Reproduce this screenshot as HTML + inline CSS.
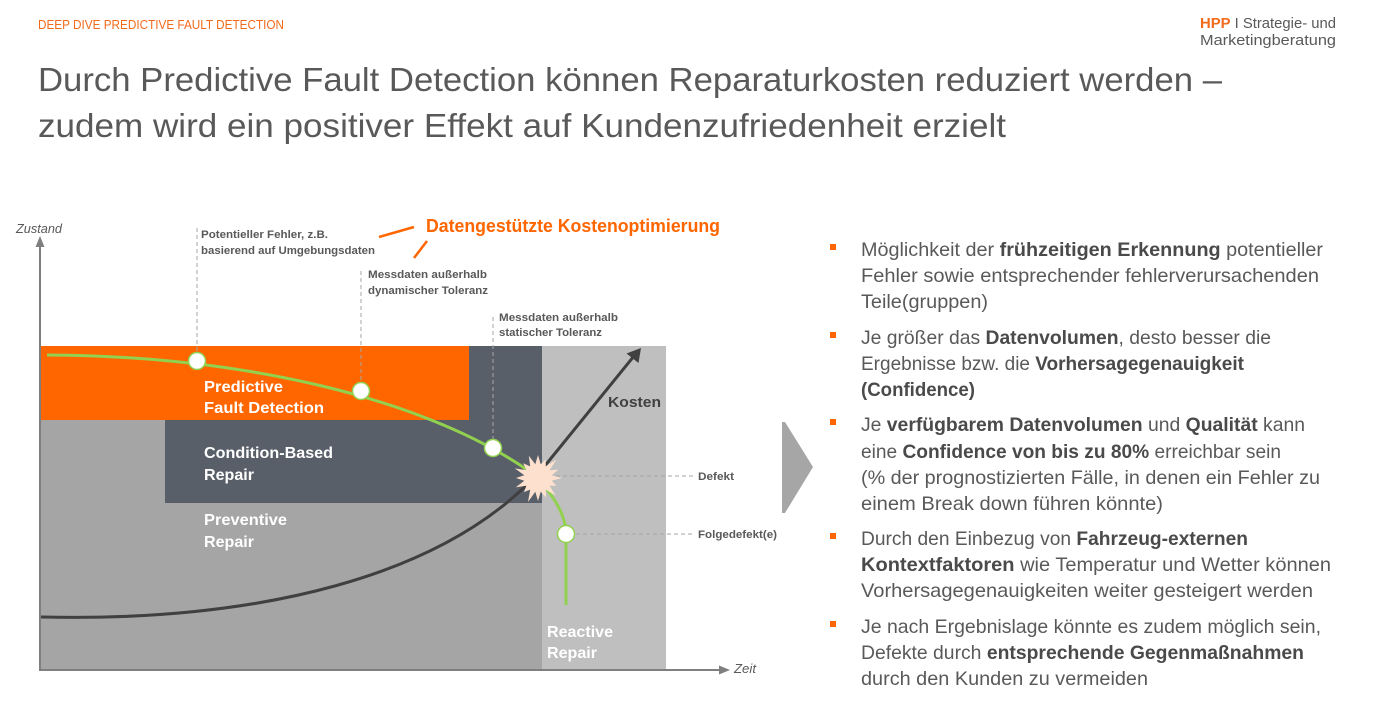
<!DOCTYPE html>
<html>
<head>
<meta charset="utf-8">
<style>
  html, body { margin: 0; padding: 0; background: #ffffff; }
  body { width: 1377px; height: 717px; overflow: hidden; }
  svg { display: block; font-family: "Liberation Sans", "DejaVu Sans", sans-serif; }
</style>
</head>
<body>
<svg width="1377" height="717" viewBox="0 0 1377 717" xmlns="http://www.w3.org/2000/svg">
  <rect x="0" y="0" width="1377" height="717" fill="#ffffff"/>

  <!-- Header -->
  <text x="38" y="29" font-size="13" fill="#f26a1b" textLength="246" lengthAdjust="spacingAndGlyphs">DEEP DIVE PREDICTIVE FAULT DETECTION</text>

  <!-- Logo -->
  <text x="1200" y="28" font-size="14.5" fill="#595959" textLength="136" lengthAdjust="spacingAndGlyphs"><tspan fill="#f26a1b" font-weight="bold">HPP</tspan> I Strategie- und</text>
  <text x="1200" y="45" font-size="14.5" fill="#595959" textLength="136" lengthAdjust="spacingAndGlyphs">Marketingberatung</text>

  <!-- Title -->
  <text x="38" y="91" font-size="33" fill="#595959" textLength="1184" lengthAdjust="spacingAndGlyphs">Durch Predictive Fault Detection können Reparaturkosten reduziert werden –</text>
  <text x="38" y="137" font-size="33" fill="#595959" textLength="968" lengthAdjust="spacingAndGlyphs">zudem wird ein positiver Effekt auf Kundenzufriedenheit erzielt</text>

  <!-- Chart background regions -->
  <rect x="40" y="419" width="502" height="250" fill="#a5a5a5"/>
  <rect x="542" y="346" width="124" height="323" fill="#bfbfbf"/>
  <polygon points="469,346 542,346 542,503 165,503 165,419 469,419" fill="#595f69"/>
  <rect x="40" y="346" width="429" height="74" fill="#ff6600"/>

  <!-- Axes -->
  <line x1="40" y1="670" x2="40" y2="245" stroke="#7f7f7f" stroke-width="2"/>
  <polygon points="40,236 44.5,247 35.5,247" fill="#7f7f7f"/>
  <line x1="39" y1="670" x2="720" y2="670" stroke="#7f7f7f" stroke-width="2"/>
  <polygon points="730,670 719,665.5 719,674.5" fill="#7f7f7f"/>
  <text x="16" y="233" font-size="12.5" font-style="italic" fill="#595959" textLength="46" lengthAdjust="spacingAndGlyphs">Zustand</text>
  <text x="734" y="673" font-size="12.5" font-style="italic" fill="#595959" textLength="22" lengthAdjust="spacingAndGlyphs">Zeit</text>

  <!-- Dashed leader lines -->
  <g stroke="#a6a6a6" stroke-width="1" stroke-dasharray="4,3" fill="none">
    <line x1="197" y1="228" x2="197" y2="353"/>
    <line x1="361" y1="271" x2="361" y2="383"/>
    <line x1="493" y1="317" x2="493" y2="440"/>
    <line x1="556" y1="476" x2="695" y2="476"/>
    <line x1="576" y1="534" x2="695" y2="534"/>
  </g>

  <!-- Callout labels -->
  <g font-size="11" font-weight="bold" fill="#595959">
    <text x="201" y="238" textLength="127" lengthAdjust="spacingAndGlyphs">Potentieller Fehler, z.B.</text>
    <text x="201" y="254" textLength="174" lengthAdjust="spacingAndGlyphs">basierend auf Umgebungsdaten</text>
    <text x="368" y="278" textLength="119" lengthAdjust="spacingAndGlyphs">Messdaten außerhalb</text>
    <text x="368" y="294" textLength="120" lengthAdjust="spacingAndGlyphs">dynamischer Toleranz</text>
    <text x="499" y="321" textLength="119" lengthAdjust="spacingAndGlyphs">Messdaten außerhalb</text>
    <text x="499" y="336" textLength="103" lengthAdjust="spacingAndGlyphs">statischer Toleranz</text>
    <text x="698" y="480" textLength="36" lengthAdjust="spacingAndGlyphs">Defekt</text>
    <text x="698" y="538" textLength="79" lengthAdjust="spacingAndGlyphs">Folgedefekt(e)</text>
  </g>

  <!-- Datengestützte Kostenoptimierung -->
  <text x="426" y="232" font-size="18" font-weight="bold" fill="#ff6600" textLength="294" lengthAdjust="spacingAndGlyphs">Datengestützte Kostenoptimierung</text>
  <line x1="379" y1="237" x2="414" y2="227" stroke="#ff6600" stroke-width="2.5"/>
  <line x1="427" y1="241" x2="414" y2="258" stroke="#ff6600" stroke-width="2.5"/>

  <!-- Block labels -->
  <g font-size="16" font-weight="bold" fill="#ffffff">
    <text x="204" y="392" textLength="79" lengthAdjust="spacingAndGlyphs">Predictive</text>
    <text x="204" y="413" textLength="120" lengthAdjust="spacingAndGlyphs">Fault Detection</text>
    <text x="204" y="458" textLength="129" lengthAdjust="spacingAndGlyphs">Condition-Based</text>
    <text x="204" y="480" textLength="50" lengthAdjust="spacingAndGlyphs">Repair</text>
    <text x="204" y="525" textLength="83" lengthAdjust="spacingAndGlyphs">Preventive</text>
    <text x="204" y="547" textLength="50" lengthAdjust="spacingAndGlyphs">Repair</text>
    <text x="547" y="637" textLength="66" lengthAdjust="spacingAndGlyphs">Reactive</text>
    <text x="547" y="658" textLength="50" lengthAdjust="spacingAndGlyphs">Repair</text>
  </g>

  <!-- Cost curve -->
  <path d="M41,617 C250,622 450,580 548,462 L634,356" stroke="#404040" stroke-width="3" fill="none"/>
  <polygon points="641,348 638.5,363 626.5,353.5" fill="#404040"/>
  <text x="608" y="407" font-size="15" font-weight="bold" fill="#404040" textLength="53" lengthAdjust="spacingAndGlyphs">Kosten</text>

  <!-- Condition curve (green) -->
  <path d="M47,355 C250,356 420,400 520,465 C545,482 566,510 566,534 L566,605" stroke="#92d050" stroke-width="3" fill="none"/>

  <!-- Defect star -->
  <polygon transform="translate(538,478)" fill="#fde0cd" points="24,0 13.7,2.7 18.5,7.7 11.6,7.8 17.7,17.7 7.8,11.6 8,19.4 2.7,13.7 0,23 -2.7,13.7 -10,24 -7.8,11.6 -14.1,14.1 -11.6,7.8 -22.2,9.2 -13.7,2.7 -22,0 -13.7,-2.7 -23.1,-9.6 -11.6,-7.8 -14.8,-14.8 -7.8,-11.6 -9.2,-22.2 -2.7,-13.7 0,-23 2.7,-13.7 7.7,-18.5 7.8,-11.6 18.4,-18.4 11.6,-7.8 20.3,-8.4 13.7,-2.7"/>

  <!-- Circles -->
  <g fill="#ffffff" stroke="#92d050" stroke-width="1.5">
    <circle cx="197" cy="361" r="8.5"/>
    <circle cx="361" cy="391" r="8.5"/>
    <circle cx="493" cy="448" r="8.5"/>
    <circle cx="566" cy="534" r="8.5"/>
  </g>

  <!-- Chevron -->
  <polygon points="782,422 785,422 813,467 785,513 782,513" fill="#a6a6a6"/>

  <!-- Bullets -->
  <g fill="#ff6600">
    <rect x="830" y="244" width="6" height="6"/>
    <rect x="830" y="332" width="6" height="6"/>
    <rect x="830" y="419" width="6" height="6"/>
    <rect x="830" y="533" width="6" height="6"/>
    <rect x="830" y="621" width="6" height="6"/>
  </g>
  <g font-size="19.5" fill="#595959">
    <text x="861" y="256" textLength="462" lengthAdjust="spacingAndGlyphs">Möglichkeit der <tspan font-weight="bold" fill="#4a4a4a">frühzeitigen Erkennung</tspan> potentieller</text>
    <text x="861" y="282" textLength="458" lengthAdjust="spacingAndGlyphs">Fehler sowie entsprechender fehlerverursachenden</text>
    <text x="861" y="308" textLength="127" lengthAdjust="spacingAndGlyphs">Teile(gruppen)</text>

    <text x="861" y="344" textLength="410" lengthAdjust="spacingAndGlyphs">Je größer das <tspan font-weight="bold" fill="#4a4a4a">Datenvolumen</tspan>, desto besser die</text>
    <text x="861" y="370" textLength="383" lengthAdjust="spacingAndGlyphs">Ergebnisse bzw. die <tspan font-weight="bold" fill="#4a4a4a">Vorhersagegenauigkeit</tspan></text>
    <text x="861" y="396" textLength="114" lengthAdjust="spacingAndGlyphs" font-weight="bold" fill="#4a4a4a">(Confidence)</text>

    <text x="861" y="431" textLength="444" lengthAdjust="spacingAndGlyphs">Je <tspan font-weight="bold" fill="#4a4a4a">verfügbarem Datenvolumen</tspan> und <tspan font-weight="bold" fill="#4a4a4a">Qualität</tspan> kann</text>
    <text x="861" y="458" textLength="420" lengthAdjust="spacingAndGlyphs">eine <tspan font-weight="bold" fill="#4a4a4a">Confidence von bis zu 80%</tspan> erreichbar sein</text>
    <text x="861" y="484" textLength="459" lengthAdjust="spacingAndGlyphs">(% der prognostizierten Fälle, in denen ein Fehler zu</text>
    <text x="861" y="510" textLength="302" lengthAdjust="spacingAndGlyphs">einem Break down führen könnte)</text>

    <text x="861" y="545" textLength="387" lengthAdjust="spacingAndGlyphs">Durch den Einbezug von <tspan font-weight="bold" fill="#4a4a4a">Fahrzeug-externen</tspan></text>
    <text x="861" y="571" textLength="470" lengthAdjust="spacingAndGlyphs"><tspan font-weight="bold" fill="#4a4a4a">Kontextfaktoren</tspan> wie Temperatur und Wetter können</text>
    <text x="861" y="597" textLength="452" lengthAdjust="spacingAndGlyphs">Vorhersagegenauigkeiten weiter gesteigert werden</text>

    <text x="861" y="633" textLength="460" lengthAdjust="spacingAndGlyphs">Je nach Ergebnislage könnte es zudem möglich sein,</text>
    <text x="861" y="659" textLength="443" lengthAdjust="spacingAndGlyphs">Defekte durch <tspan font-weight="bold" fill="#4a4a4a">entsprechende Gegenmaßnahmen</tspan></text>
    <text x="861" y="685" textLength="287" lengthAdjust="spacingAndGlyphs">durch den Kunden zu vermeiden</text>
  </g>
</svg>
</body>
</html>
